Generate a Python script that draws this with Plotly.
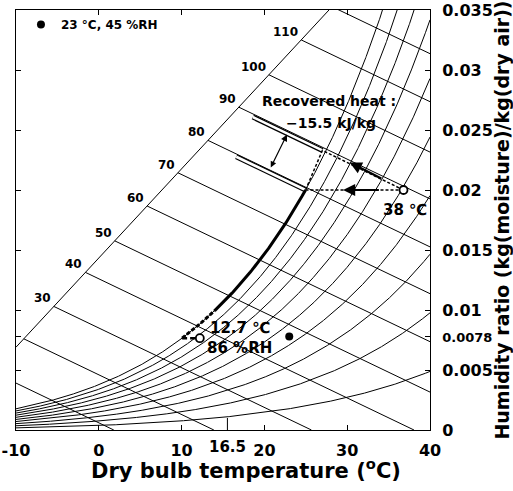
import numpy as np
import plotly.graph_objects as go

# ---------------- data ----------------
P_ATM_KPA = 101.325
RH_LEVELS = [10, 20, 30, 40, 50, 60, 70, 80, 90, 100]          # relative humidity curves, %
ENTHALPY_LEVELS = [10, 20, 30, 40, 50, 60, 70, 80, 90, 100, 110, 120]  # kJ/kg
# humidity ratio of each enthalpy line where it would cross 0 degC
ENTHALPY_W_AT_0C = [0.0006, 0.0046, 0.0085, 0.0126, 0.0164, 0.0206,
                    0.0246, 0.0285, 0.0325, 0.0364, 0.0406, 0.0446]
ENTHALPY_SLOPE = -0.000331          # dW/dT of the enthalpy lines on this chart
ENTHALPY_LABELS = [30, 40, 50, 60, 70, 80, 90, 100, 110]
SCALE_LINE_T = [-10.0, 27.8]        # enthalpy scale (diagonal) line
SCALE_LINE_W = [0.0069, 0.035]

X_TICKS = [-10, 0, 10, 20, 30, 40]
X_TICK_TEXT = ["-10", "0", "10", "20", "30", "40"]
Y_TICKS = [0, 0.005, 0.0078, 0.01, 0.015, 0.02, 0.025, 0.03, 0.035]
Y_TICK_TEXT = ["0", "0.005", "<span style='font-size:13px'>0.0078</span>", "0.01",
               "0.015", "0.02", "0.025", "0.03", "0.035"]

ROOM_T, ROOM_W = 23.0, 0.0078            # 23 C, 45 %RH
SUPPLY_T, SUPPLY_W = 12.2, 0.00765       # 12.7 C, 86 %RH
OUTDOOR_T, OUTDOOR_W = 36.8, 0.0200      # 38 C
CORNER_T, CORNER_W = 27.0, 0.0233        # end of the evaporative path
SAT_SOLID_FROM_T = 14.0                  # thick saturation path: dashed below, solid above
LOWER_DOUBLE_FROM_T = 16.6
UPPER_DOUBLE_FROM_T = 18.6
ARROW_H = dict(tail=(34.0, 0.0200), head=(29.5, 0.0200))
ARROW_E = dict(tail=(34.3, 0.0209), head=(30.3, 0.0223))
ARROW_D = dict(a=(22.73, 0.02462), b=(20.68, 0.02176))
MARK_16_5 = 16.5

# ---------------- psychrometrics ----------------
def w_sat(T):
    pws = 0.61094 * np.exp(17.625 * T / (T + 243.04))
    return 0.622 * pws / (P_ATM_KPA - pws)

def w_of(T, rh):
    # the chart draws its humidity curves as fractions of the saturation humidity ratio
    return rh / 100.0 * w_sat(T)

T_GRID = np.linspace(-10, 40, 1001)
WS_GRID = w_sat(T_GRID)

def dew_T(w):
    return float(np.interp(w, WS_GRID, T_GRID))

k_scale = (SCALE_LINE_W[1] - SCALE_LINE_W[0]) / (SCALE_LINE_T[1] - SCALE_LINE_T[0])

def enth_start(w0):
    return (w0 - SCALE_LINE_W[0] + k_scale * SCALE_LINE_T[0]) / (k_scale - ENTHALPY_SLOPE)

fig = go.Figure()
LINE = dict(color="black", width=1)

# RH curves
for rh in RH_LEVELS:
    fig.add_trace(go.Scatter(x=T_GRID, y=w_of(T_GRID, rh), mode="lines", line=LINE,
                             showlegend=False, hoverinfo="skip"))

# enthalpy scale line
fig.add_trace(go.Scatter(x=SCALE_LINE_T, y=SCALE_LINE_W, mode="lines", line=LINE,
                         showlegend=False, hoverinfo="skip"))

# enthalpy lines
label_pos = {}
for h, w0 in zip(ENTHALPY_LEVELS, ENTHALPY_W_AT_0C):
    t0 = max(-10.0, enth_start(w0))
    t1 = min(40.0, w0 / -ENTHALPY_SLOPE)
    xs = np.array([t0, t1])
    fig.add_trace(go.Scatter(x=xs, y=w0 + ENTHALPY_SLOPE * xs, mode="lines", line=LINE,
                             showlegend=False, hoverinfo="skip"))
    label_pos[h] = (t0, w0 + ENTHALPY_SLOPE * t0)

# double (hollow) constant-enthalpy lines
sat_T = dew_T(OUTDOOR_W)
for (tA, tB, w_ref, t_ref) in [(LOWER_DOUBLE_FROM_T, sat_T, OUTDOOR_W, sat_T),
                               (UPPER_DOUBLE_FROM_T, CORNER_T, CORNER_W, CORNER_T)]:
    w0 = w_ref - ENTHALPY_SLOPE * t_ref
    xs = np.array([tA, tB])
    ys = w0 + ENTHALPY_SLOPE * xs
    fig.add_trace(go.Scatter(x=xs, y=ys, mode="lines", line=dict(color="black", width=5),
                             showlegend=False, hoverinfo="skip"))
    fig.add_trace(go.Scatter(x=xs, y=ys, mode="lines", line=dict(color="white", width=2.6),
                             showlegend=False, hoverinfo="skip"))

# process path along saturation (thick)
t_dew_supply = dew_T(SUPPLY_W)
ts = np.linspace(t_dew_supply, SAT_SOLID_FROM_T, 40)
fig.add_trace(go.Scatter(x=ts, y=w_sat(ts), mode="lines",
                         line=dict(color="black", width=3, dash="4px,2px"),
                         showlegend=False, hoverinfo="skip"))
ts = np.linspace(SAT_SOLID_FROM_T, sat_T, 80)
fig.add_trace(go.Scatter(x=ts, y=w_sat(ts), mode="lines",
                         line=dict(color="black", width=3),
                         showlegend=False, hoverinfo="skip"))
# supply state to its dew point
fig.add_trace(go.Scatter(x=[t_dew_supply, SUPPLY_T], y=[SUPPLY_W, SUPPLY_W], mode="lines",
                         line=dict(color="black", width=2.5, dash="5px,3px"),
                         showlegend=False, hoverinfo="skip"))

# dashed process lines from outdoor state
DOT = dict(color="black", width=1.5, dash="3px,2px")
fig.add_trace(go.Scatter(x=[OUTDOOR_T, sat_T], y=[OUTDOOR_W, OUTDOOR_W], mode="lines",
                         line=DOT, showlegend=False, hoverinfo="skip"))
fig.add_trace(go.Scatter(x=[OUTDOOR_T, CORNER_T, sat_T], y=[OUTDOOR_W, CORNER_W, OUTDOOR_W],
                         mode="lines", line=DOT, showlegend=False, hoverinfo="skip"))

# state points
fig.add_trace(go.Scatter(x=[OUTDOOR_T, SUPPLY_T], y=[OUTDOOR_W, SUPPLY_W], mode="markers",
                         marker=dict(symbol="circle", size=8, color="white",
                                     line=dict(color="black", width=1.8)),
                         showlegend=False, hoverinfo="skip"))
fig.add_trace(go.Scatter(x=[ROOM_T], y=[ROOM_W], mode="markers",
                         marker=dict(symbol="circle", size=8, color="black"),
                         name="23 °C, 45 %RH", showlegend=True))

BOLD = dict(family="DejaVu Sans", color="black", weight="bold")
ann = []
for h in ENTHALPY_LABELS:
    t0, w0 = label_pos[h]
    ann.append(dict(x=t0, y=w0, text=str(h), showarrow=False, xanchor="right", yanchor="bottom",
                    xshift=-1, yshift=-1, font=dict(BOLD, size=12)))

def arrow(head, tail, width, both=False):
    d = dict(x=head[0], y=head[1], ax=tail[0], ay=tail[1], xref="x", yref="y",
             axref="x", ayref="y", text="", showarrow=True, arrowhead=2, arrowsize=1.1,
             arrowwidth=width, arrowcolor="black", standoff=0, startstandoff=0)
    if both:
        d.update(arrowside="end+start", startarrowhead=2, startarrowsize=1)
    return d

ann.append(arrow(ARROW_H["head"], ARROW_H["tail"], 2.2))
ann.append(arrow(ARROW_E["head"], ARROW_E["tail"], 2.2))
ann.append(arrow(ARROW_D["a"], ARROW_D["b"], 1.2, both=True))

ann += [
    dict(x=27.8, y=0.02742, text="Recovered heat :", showarrow=False, font=dict(BOLD, size=14)),
    dict(x=28.0, y=0.02558, text="−15.5 kJ/kg", showarrow=False, font=dict(BOLD, size=14)),
    dict(x=37.0, y=0.01833, text="38 ℃", showarrow=False, font=dict(BOLD, size=15)),
    dict(x=17.0, y=0.0085, text="12.7 ℃", showarrow=False, font=dict(BOLD, size=15)),
    dict(x=17.0, y=0.00683, text="86 %RH", showarrow=False, font=dict(BOLD, size=15)),
    dict(x=MARK_16_5, y=0, text="16.5", showarrow=False, yanchor="top", xshift=-8, yshift=-6,
         font=dict(BOLD, size=15)),
    # x-axis title (sits right of the plot centre in the reference)
    dict(x=0.556, y=-0.092, xref="paper", yref="paper", xanchor="center", yanchor="middle",
         text="Dry bulb temperature (<sup>o</sup>C)", showarrow=False, font=dict(BOLD, size=21)),
]

shapes = [dict(type="line", xref="x", yref="y", xsizemode="pixel", xanchor=MARK_16_5,
               x0=-8, x1=-8, y0=0, y1=0.001, line=dict(color="black", width=1))]

fig.update_layout(
    width=513, height=491,
    margin=dict(l=16, r=83, t=10, b=61),
    paper_bgcolor="white", plot_bgcolor="white",
    font=dict(family="DejaVu Sans", color="black"),
    annotations=ann, shapes=shapes,
    legend=dict(x=0.012, y=1.0, xanchor="left", yanchor="top", bgcolor="rgba(0,0,0,0)",
                font=dict(BOLD, size=12), itemwidth=30),
    xaxis=dict(range=[-10, 40], tickvals=X_TICKS, ticktext=X_TICK_TEXT, ticks="inside",
               ticklen=5, tickcolor="black", showline=True, linecolor="black", linewidth=1,
               mirror="ticks", showgrid=False, zeroline=False, ticklabelstandoff=6,
               ticklabeloverflow="allow", automargin=False, tickfont=dict(BOLD, size=16)),
    yaxis=dict(range=[0, 0.035], side="right", tickvals=Y_TICKS, ticktext=Y_TICK_TEXT,
               ticks="inside", ticklen=5, tickcolor="black", showline=True, linecolor="black",
               linewidth=1, mirror="ticks", showgrid=False, zeroline=False,
               ticklabeloverflow="allow", automargin=False, ticklabelstandoff=8,
               tickfont=dict(BOLD, size=16),
               title=dict(text="Humidity ratio (kg(moisture)/kg(dry air))",
                          font=dict(BOLD, size=19), standoff=4)),
)

# the page's default 8 px body margin would shift the figure; remove it
fig.write_html("out.html", config={"displayModeBar": False},
               post_script="document.body.style.margin='0px';")
